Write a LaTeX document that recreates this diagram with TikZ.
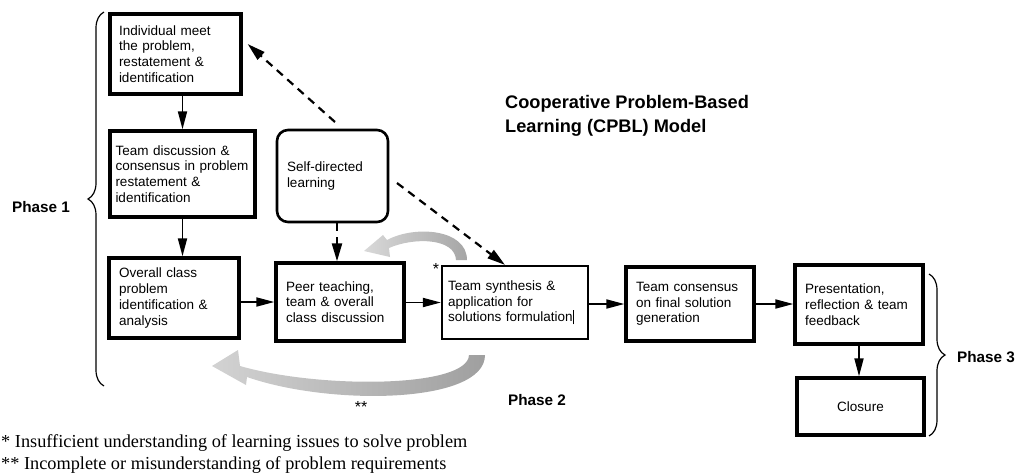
\documentclass[tikz,border=0pt]{standalone}
\usepackage{fontspec}
\setmainfont{Liberation Sans}
\newfontfamily\footfont{Liberation Serif}
\usetikzlibrary{arrows.meta,decorations.pathreplacing,calc}
\begin{document}
\begin{tikzpicture}[x=1pt,y=-1pt,
  box/.style={draw, line width=3.3pt, rectangle, align=left, inner ysep=0pt,
    font=\fontsize{13.5}{15.7}\selectfont},
  arr/.style={line width=1.8pt, -{Triangle[length=18pt,width=9pt]}},
  dasharr/.style={line width=2.2pt, dash pattern=on 8pt off 6pt, -{Triangle[length=18pt,width=10pt]}},
  lbl/.style={font=\bfseries\fontsize{15.3}{18}\selectfont, inner sep=0pt},
  brc/.style={decorate, decoration={brace, amplitude=16pt}, line width=1.2pt},
  foot/.style={font=\footfont\fontsize{18.3}{22}\selectfont, inner sep=0pt, anchor=base west},
  ast/.style={font=\fontsize{16}{18}\selectfont, inner sep=0pt}
]
\useasboundingbox (0,0) rectangle (1018,472);

% boxes
\node[box, minimum width=131pt, minimum height=80pt, inner xsep=9pt, text width=113pt] (b1) at (175.5,54)
  {Individual meet\\the problem,\\restatement \&\\identification};
\node[box, minimum width=145pt, minimum height=86pt, inner xsep=5.5pt, text width=134pt] (b2) at (182.5,174)
  {Team discussion \&\\consensus in problem\\restatement \&\\identification};
\node[box, minimum width=130pt, minimum height=80pt, inner xsep=10pt, text width=110pt] (b3) at (174,298)
  {Overall class\\problem\\identification \&\\analysis};
\node[box, line width=2.6pt, rounded corners=11pt, minimum width=111pt, minimum height=92pt, inner xsep=10pt, text width=91pt] (self) at (332.5,176)
  {Self-directed\\learning};
\node[box, minimum width=128pt, minimum height=78pt, inner xsep=10pt, text width=108pt] (peer) at (340,302)
  {Peer teaching,\\team \& overall\\class discussion};
\node[box, line width=2.2pt, minimum width=146pt, minimum height=73pt, inner xsep=6pt, text width=134pt] (synth) at (515,302.5)
  {Team synthesis \&\\application for\\solutions formulation\rule[-2.5pt]{0.8pt}{14pt}};
\node[box, minimum width=128pt, minimum height=74pt, inner xsep=10pt, text width=108pt] (cons) at (690,304)
  {Team consensus\\on final solution\\generation};
\node[box, minimum width=128pt, minimum height=79pt, inner xsep=10pt, text width=108pt] (pres) at (859,304.5)
  {Presentation,\\reflection \& team\\feedback};
\node[box, align=center, minimum width=127pt, minimum height=57pt] (clos) at (860.5,406.5)
  {Closure};

% solid arrows
\draw[arr] (b1.south -| b2.north) -- (b2.north);
\draw[arr] (b2.south) -- (b3.north -| b2.south);
\draw[arr] (b3.east |- peer.west) -- (peer.west);
\draw[arr] (peer.east |- synth.west) -- (synth.west);
\draw[arr] (synth.east |- cons.west) -- (cons.west);
\draw[arr] (cons.east) -- (cons.east -| pres.west);
\draw[arr] (pres.south) -- (pres.south |- clos.north);

% dashed arrows
\coordinate (d1s) at (335,122);
\coordinate (d2s) at (397,183);
\draw[dasharr] (d1s) -- ($(b1.east)+(5,-10)$);
\draw[dasharr] (d2s) -- ($(synth.north)+(-10,0)$);
\draw[dasharr] ($(self.south)+(4.5,0)$) -- ($(peer.north)+(-3,0)$);

% grey feedback arrows
\shade[left color=gray!30, right color=gray!70]
  (467,260) .. controls (467,229) and (415,225) .. (387,240) -- (383,235) -- (364,251)
  -- (390,257) -- (389,248) .. controls (414,237) and (455,238) .. (456,260) -- cycle;
\shade[left color=gray!35, right color=gray!75]
  (485,355) .. controls (485,404) and (330,406) .. (247,377) -- (246,385) -- (212,366)
  -- (238,350) -- (240,366) .. controls (320,389) and (468,388) .. (469,355) -- cycle;

\node[ast] (s1) at (436,269) {*};
\node[ast] (s2) at (361,407) {**};

% braces
\draw[brc] (104,386) -- (104,12);
\draw[brc] (929,274) -- (929,436);

% labels
\node[lbl] (p1) at (41,207) {Phase 1};
\node[lbl] (p2) at (537,400) {Phase 2};
\node[lbl] (p3) at (986,357) {Phase 3};
\node[font=\bfseries\fontsize{18.2}{24}\selectfont, align=left, inner sep=0pt, anchor=west] (title) at (505,116)
  {Cooperative Problem-Based\\Learning (CPBL) Model};

% footnotes
\node[foot] (f1) at (1,447) {* Insufficient understanding of learning issues to solve problem};
\node[foot] (f2) at (1,469) {** Incomplete or misunderstanding of problem requirements};
\end{tikzpicture}
\end{document}
